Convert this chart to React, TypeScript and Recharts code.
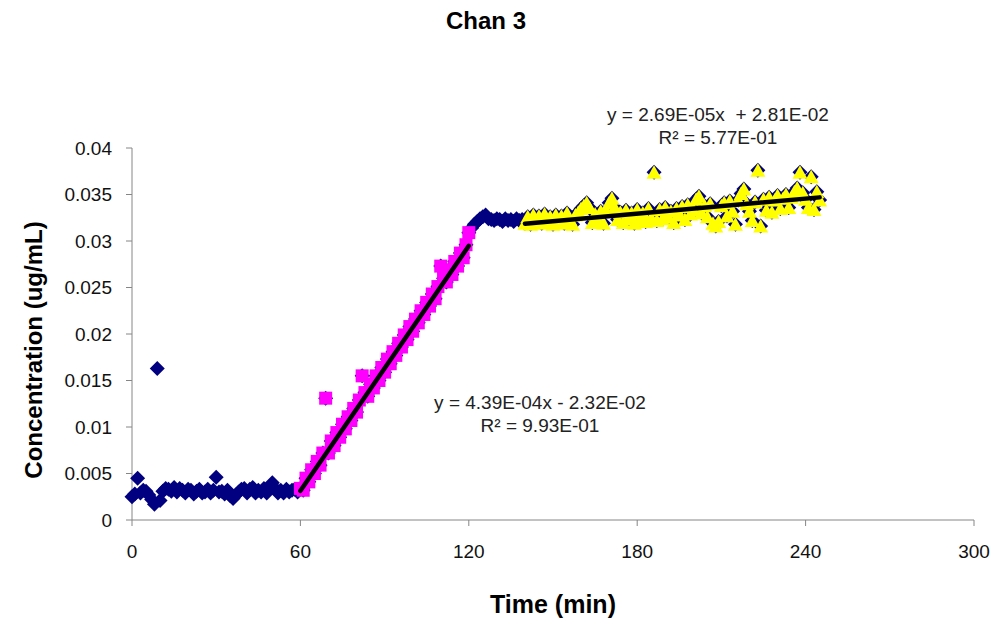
import { ComposedChart, Scatter, XAxis, YAxis } from "recharts";

// one reading per minute from t = 0, in 1e-3 ug/mL
const readings = [
  2.5, 2.8, 4.5, 2.9, 3.2, 3.1, 2.7, 2.2, 1.7, 16.3,
  2.1, 3.1, 3.4, 3.3, 3.1, 3.5, 3.0, 3.4, 3.2, 2.9,
  3.3, 3.2, 2.8, 3.1, 3.3, 2.9, 3.0, 3.3, 2.9, 3.2,
  4.6, 3.0, 3.1, 2.8, 3.2, 2.6, 2.3, 2.7, 3.0, 3.3,
  3.4, 2.9, 3.3, 3.5, 2.9, 3.2, 3.0, 3.4, 2.9, 3.5,
  4.0, 3.4, 2.9, 3.2, 2.9, 3.3, 3.0, 3.2, 3.3, 3.0,
  3.4, 3.2, 4.5, 4.1, 5.4, 5.0, 6.3, 5.9, 7.2, 13.1,
  7.2, 8.5, 8.0, 9.4, 8.9, 10.3, 9.8, 11.1, 10.7, 12.0,
  11.6, 12.9, 15.5, 13.7, 13.3, 14.6, 14.2, 15.5, 15.0, 16.4,
  15.9, 17.3, 16.8, 18.1, 17.7, 19.0, 18.6, 19.9, 19.4, 20.8,
  20.3, 21.6, 21.2, 22.5, 22.1, 23.4, 23.0, 24.3, 23.8, 25.1,
  27.3, 26.0, 25.6, 26.9, 26.4, 27.8, 27.3, 28.7, 28.2, 29.6,
  30.9, 31.4, 31.8, 32.1, 32.4, 32.6, 32.8, 32.4, 32.3, 32.2,
  32.4, 32.3, 32.1, 32.4, 32.2, 32.3, 32.1, 32.4, 32.2, 32.3,
  31.9, 32.6, 31.8, 32.8, 32.0, 32.7, 31.9, 32.9, 32.1, 32.6,
  31.8, 32.8, 32.2, 32.7, 31.9, 33.0, 32.3, 31.8, 32.8, 33.1,
  33.5, 33.8, 34.1, 33.6, 32.0, 32.9, 32.2, 33.2, 31.9, 33.3,
  34.1, 34.6, 33.6, 32.3, 33.1, 32.0, 33.3, 32.4, 33.0, 31.9,
  33.4, 32.3, 33.0, 32.1, 33.5, 32.5, 37.4, 32.2, 33.4, 32.4,
  33.6, 32.6, 33.2, 32.0, 33.5, 32.8, 33.7, 32.3, 33.9, 32.9,
  33.4, 34.5, 34.8, 33.0, 33.8, 32.6, 34.0, 31.9, 31.6, 32.1,
  33.8, 34.1, 32.7, 34.3, 33.2, 31.8, 34.4, 35.1, 35.6, 34.0,
  33.2, 32.2, 34.2, 37.6, 31.6, 34.5, 33.3, 34.7, 33.1, 34.4,
  34.9, 33.5, 34.6, 35.0, 33.6, 34.7, 35.3, 35.7, 37.4, 35.2,
  34.5, 33.6, 36.9, 33.4, 35.3, 34.4,
];

// fit windows (minutes) and the fitted coefficients shown on the chart
const rampRange = [60, 120];
const plateauRange = [140, 245];
const rampFit = { slope: 4.39e-4, intercept: -2.32e-2 };
const plateauFit = { slope: 2.69e-5, intercept: 2.81e-2 };

const xTicks = [0, 60, 120, 180, 240, 300];
const yTicks = [0, 0.005, 0.01, 0.015, 0.02, 0.025, 0.03, 0.035, 0.04];

const points = readings.map((v, i) => ({ t: i, c: v / 1000 }));
const inRange = (r: number[]) => points.filter((p) => p.t >= r[0] && p.t <= r[1]);
const fitLine = (r: number[], f: { slope: number; intercept: number }) =>
  r.map((t) => ({ t, c: f.slope * t + f.intercept }));

const FONT = '"Liberation Sans", Arial, sans-serif';

const Diamond = ({ cx, cy }: any) => (
  <polygon
    points={`${cx},${cy - 7.5} ${cx + 7.5},${cy} ${cx},${cy + 7.5} ${cx - 7.5},${cy}`}
    fill="#000080"
  />
);
const Square = ({ cx, cy }: any) => (
  <rect x={cx - 6.5} y={cy - 6.5} width={13} height={13} fill="#ff00ff" />
);
const Triangle = ({ cx, cy }: any) => (
  <polygon
    points={`${cx},${cy - 7} ${cx + 7.5},${cy + 6.5} ${cx - 7.5},${cy + 6.5}`}
    fill="#ffff00"
  />
);
const NoDot = () => <g />;

const tickStyle = { fontSize: 19, fill: "#111", fontFamily: FONT };
const fitStroke = { stroke: "#000", strokeWidth: 4.5, strokeLinecap: "round" };

export default function App() {
  return (
    <div style={{ position: "absolute", left: 0, top: 0, width: 993, height: 620, background: "#fff" }}>
      <ComposedChart
        width={993}
        height={620}
        margin={{ top: 148, right: 19, bottom: 40, left: 0 }}
      >
        <XAxis
          type="number"
          dataKey="t"
          domain={[0, 300]}
          ticks={xTicks}
          height={60}
          stroke="#868686"
          tickSize={6}
          tickMargin={19}
          tick={tickStyle}
        />
        <YAxis
          type="number"
          dataKey="c"
          domain={[0, 0.04]}
          ticks={yTicks}
          width={132}
          stroke="#868686"
          tickSize={6}
          tickMargin={14}
          tick={tickStyle}
        />
        <Scatter data={points} shape={Diamond} isAnimationActive={false} />
        <Scatter data={inRange(rampRange)} shape={Square} isAnimationActive={false} />
        <Scatter data={inRange(plateauRange)} shape={Triangle} isAnimationActive={false} />
        <Scatter
          data={fitLine(rampRange, rampFit)}
          line={fitStroke}
          shape={NoDot}
          isAnimationActive={false}
        />
        <Scatter
          data={fitLine(plateauRange, plateauFit)}
          line={fitStroke}
          shape={NoDot}
          isAnimationActive={false}
        />
      </ComposedChart>
      <svg
        width={993}
        height={620}
        style={{ position: "absolute", left: 0, top: 0, pointerEvents: "none" }}
        fontFamily={FONT}
      >
        <text x={486} y={20} textAnchor="middle" dominantBaseline="central" fontSize={24} fontWeight="bold">
          Chan 3
        </text>
        <text x={553} y={604} textAnchor="middle" dominantBaseline="central" fontSize={25} fontWeight="bold">
          Time (min)
        </text>
        <text
          x={33}
          y={350}
          textAnchor="middle"
          dominantBaseline="central"
          fontSize={24}
          fontWeight="bold"
          transform="rotate(-90 33 350)"
        >
          Concentration (ug/mL)
        </text>
        <g fontSize={19} fill="#222" textAnchor="middle" dominantBaseline="central">
          <text x={718} y={114} style={{ whiteSpace: "pre" }}>
            {"y = 2.69E-05x  + 2.81E-02"}
          </text>
          <text x={718} y={137}>R² = 5.77E-01</text>
          <text x={540} y={402}>y = 4.39E-04x - 2.32E-02</text>
          <text x={540} y={425}>R² = 9.93E-01</text>
        </g>
      </svg>
    </div>
  );
}
